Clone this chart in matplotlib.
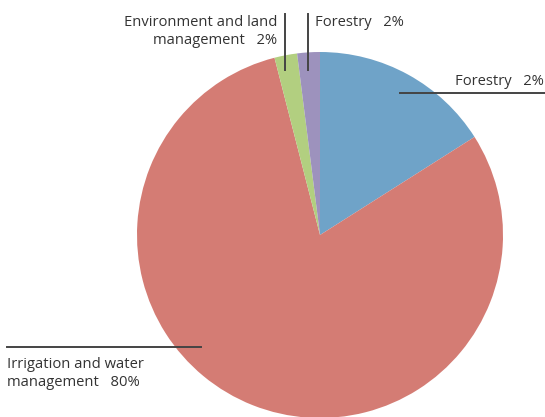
import matplotlib
matplotlib.use("Agg")
from matplotlib import pyplot as plt

# slice values (percent)
shares = [16, 80, 2, 2]
colours = ["#6fa3c8", "#d47c74", "#b2cf80", "#9d92bd"]
labels = ["Forestry   2%",
          "Irrigation and water\nmanagement   80%",
          "Environment and land\nmanagement   2%",
          "Forestry   2%"]

W, H = 545, 417
fig = plt.figure(figsize=(W/100, H/100), dpi=100)
ax = fig.add_axes([0, 0, 1, 1])

cx, cy, r = 320, H-235, 183
ax.pie(shares, colors=colours, startangle=90, counterclock=False,
       center=(cx, cy), radius=r, frame=True,
       wedgeprops=dict(linewidth=0))
ax.set_xlim(0, W)
ax.set_ylim(0, H)
ax.set_aspect("equal")
ax.axis("off")

lc = "#444444"
tc = "#333333"
fs = 10.6
font = "Open Sans"

# blue slice
ax.plot([400, 545], [H-93, H-93], color=lc, lw=1.4)
ax.text(544, H-85, labels[0], ha="right", va="baseline", fontsize=fs, color=tc, family=font)

# red slice
ax.plot([7, 201], [H-347, H-347], color=lc, lw=1.4)
ax.text(7, H-357, labels[1], ha="left", va="top", fontsize=fs, color=tc, family=font,
        linespacing=1.25)

# green slice
ax.plot([285, 285], [H-14, H-70], color=lc, lw=1.4)
ax.text(277, H-15, labels[2], ha="right", va="top", fontsize=fs, color=tc, family=font,
        multialignment="right", linespacing=1.25)

# purple slice
ax.plot([308, 308], [H-14, H-70], color=lc, lw=1.4)
ax.text(315, H-15, labels[3], ha="left", va="top", fontsize=fs, color=tc, family=font)

fig.savefig("out.png", dpi=100)
